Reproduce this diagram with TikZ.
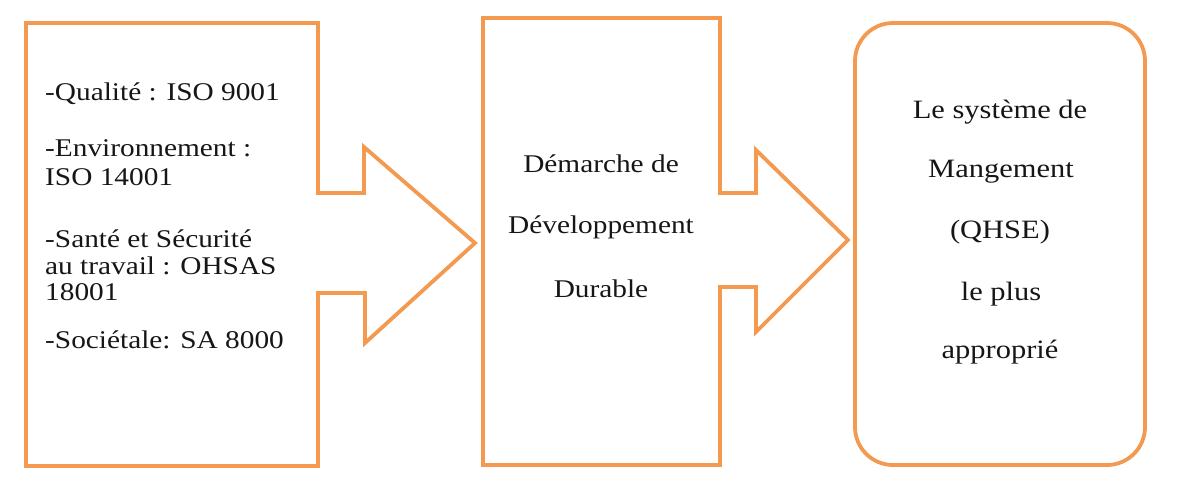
\documentclass[tikz,border=0pt]{standalone}
\usepackage{fontspec}
\setmainfont[FakeStretch=1.15]{Liberation Serif}
\definecolor{qorange}{HTML}{F39A50}
\definecolor{qtext}{HTML}{161616}
\begin{document}
\begin{tikzpicture}[x=1pt,y=-1pt,
  outline/.style={draw=qorange,line width=3.8pt,line join=miter},
  lefttxt/.style={anchor=base west,inner sep=0pt,text=qtext,font=\fontsize{25.5}{28}\selectfont},
  midtxt/.style={anchor=base,inner sep=0pt,text=qtext,font=\fontsize{25.5}{28}\selectfont},
  righttxt/.style={anchor=base,inner sep=0pt,text=qtext,font=\fontsize{26.5}{28}\selectfont}]
\useasboundingbox (0,0) rectangle (1188,485);
% left box with arrow
\draw[outline] (26,23) -- (318,23) -- (318,193) -- (364,193) -- (364,147) -- (475,243)
  -- (365,343) -- (365,293) -- (318,293) -- (318,466) -- (26,466) -- cycle;
% middle box with arrow
\draw[outline] (483,18) -- (720,18) -- (720,193) -- (756,193) -- (756,150) -- (848,240)
  -- (756,332) -- (756,287) -- (720,287) -- (720,465) -- (483,465) -- cycle;
% right rounded box
\draw[outline,rounded corners=38pt] (855,23) rectangle (1145,465);
% left text
\node[lefttxt] (l1) at (45,100) {-Qualité : ISO 9001};
\node[lefttxt] (l2) at (45,156) {-Environnement :};
\node[lefttxt] (l3) at (45,185) {ISO 14001};
\node[lefttxt] (l4) at (45,247) {-Santé et Sécurité};
\node[lefttxt] (l5) at (45,274) {au travail : OHSAS};
\node[lefttxt] (l6) at (45,300) {18001};
\node[lefttxt] (l7) at (45,348) {-Sociétale: SA 8000};
% middle text
\node[midtxt] (m1) at (601,172) {Démarche de};
\node[midtxt] (m2) at (601,233) {Développement};
\node[midtxt] (m3) at (601,297) {Durable};
% right text
\node[righttxt] (r1) at (1000,118) {Le système de};
\node[righttxt] (r2) at (1001,177) {Mangement};
\node[righttxt] (r3) at (1000,238) {(QHSE)};
\node[righttxt] (r4) at (1001,300) {le plus};
\node[righttxt] (r5) at (1000,358) {approprié};
\end{tikzpicture}
\end{document}
